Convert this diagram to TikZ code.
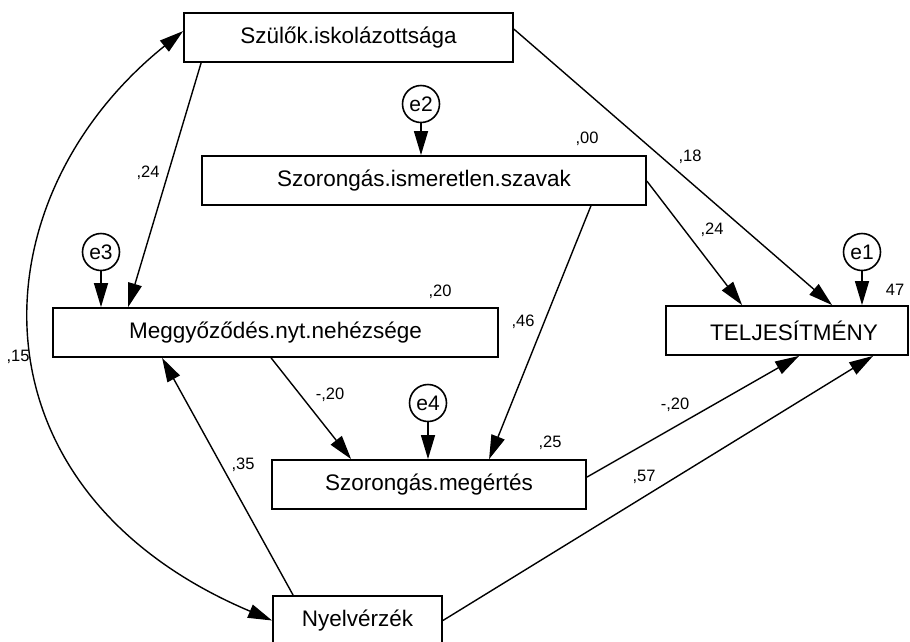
\documentclass[tikz,border=0pt]{standalone}
\usepackage{fontspec}
\setmainfont{Liberation Sans}
\usetikzlibrary{arrows.meta}
\begin{document}
\begin{tikzpicture}[x=1pt,y=-1pt,
  box/.style={draw, line width=1.8pt, inner sep=0pt, minimum height=49pt, font=\fontsize{22.5}{27}\selectfont},
  err/.style={draw, circle, line width=1.6pt, minimum size=37pt, inner sep=0pt, font=\fontsize{21}{25}\selectfont},
  arr/.style={line width=1.4pt, -{Triangle[length=24pt,width=14pt]}},
  barr/.style={line width=1.4pt, {Triangle[length=24pt,width=14pt]}-{Triangle[length=24pt,width=14pt]}},
  lbl/.style={font=\fontsize{16.5}{20}\selectfont, inner sep=0pt}]
\useasboundingbox (0,0) rectangle (910,641);
% boxes
\node[box, minimum width=329pt] (S) at (348.5,37.5) {Szülők.iskolázottsága};
\node[box, minimum width=444pt] (I) at (424,180.5) {Szorongás.ismeretlen.szavak};
\node[box, minimum width=445pt] (M) at (275.5,332.5) {Meggyőződés.nyt.nehézsége};
\node[box, minimum width=242pt] (T) at (787,330.5) {\hspace*{14pt}TELJESÍTMÉNY};
\node[box, minimum width=314pt] (SM) at (429,484.5) {Szorongás.megértés};
\node[box, minimum width=169pt] (N) at (357.5,620.5) {Nyelvérzék};
% error terms
\node[err] (e1) at (862,252) {e1};
\node[err] (e2) at (421,104) {e2};
\node[err] (e3) at (101,252) {e3};
\node[err] (e4) at (428,403) {e4};
\draw[arr] (e1.south) -- (e1.south |- T.north);
\draw[arr] (e2.south) -- (e2.south |- I.north);
\draw[arr] (e3.south) -- (e3.south |- M.north);
\draw[arr] (e4.south) -- (e4.south |- SM.north);
% paths
\draw[arr] ([xshift=18pt]S.south west) -- ([xshift=76pt]M.north west);
\draw[arr] ([yshift=-17pt]S.north east) -- ([xshift=167pt]T.north west);
\draw[arr] ([yshift=-26pt]I.north east) -- ([xshift=77pt]T.north west);
\draw[arr] ([xshift=-56pt]I.south east) -- ([xshift=218pt]SM.north west);
\draw[arr] ([xshift=219pt]M.south west) -- ([xshift=80pt]SM.north west);
\draw[arr] ([xshift=21pt]N.north west) -- ([xshift=110pt]M.south west);
\draw[arr] (N.east) -- ([xshift=208pt]T.south west);
\draw[arr] ([yshift=-18pt]SM.north east) -- ([xshift=134pt]T.south west);
\draw[barr] ([yshift=-19pt]S.north west) .. controls (-27,200) and (-37,490) .. (N.west);
% labels
\node[lbl] (l1) at (148,173) {,24};
\node[lbl] (l2) at (690,157) {,18};
\node[lbl] (l3) at (712,230) {,24};
\node[lbl] (l4) at (523,322) {,46};
\node[lbl] (l5) at (587,139) {,00};
\node[lbl] (l6) at (440,292) {,20};
\node[lbl] (l7) at (330,395) {-,20};
\node[lbl] (l8) at (243,465) {,35};
\node[lbl] (l9) at (550,443) {,25};
\node[lbl] (l10) at (675,405) {-,20};
\node[lbl] (l11) at (644,477) {,57};
\node[lbl] (l12) at (18,357) {,15};
\node[lbl] (l13) at (895,290) {47};
\end{tikzpicture}
\end{document}
